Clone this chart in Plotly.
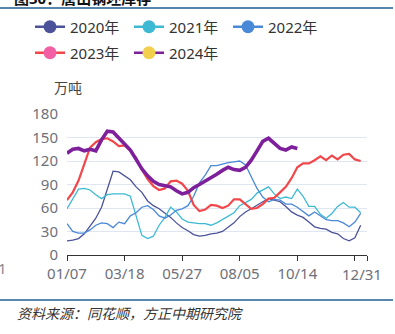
import plotly.graph_objects as go

tick_labels = ["01/07", "03/18", "05/27", "08/05", "10/14", "12/31"]
years = ["2020年", "2021年", "2022年", "2023年", "2024年"]

y2020 = [18, 19, 21, 27, 37, 47, 61, 84, 107, 106,
         101, 96, 87, 80, 69, 63, 59, 54, 48, 41,
         35, 31, 26, 24, 25, 27, 28, 30, 35, 41,
         49, 55, 59, 64, 68, 72, 70, 68, 62, 55,
         51, 48, 42, 36, 34, 33, 29, 27, 21, 18,
         22, 38]
y2021 = [59, 72, 84, 85, 83, 77, 72, 77, 78, 78,
         78, 75, 49, 25, 21, 24, 38, 48, 61, 55,
         46, 42, 41, 40, 40, 38, 41, 45, 49, 54,
         63, 67, 71, 79, 83, 87, 78, 72, 74, 72,
         84, 75, 62, 62, 52, 47, 53, 62, 67, 61,
         61, 54]
y2022 = [40, 30, 28, 28, 32, 38, 41, 40, 35, 42,
         40, 50, 54, 61, 63, 58, 50, 47, 51, 57,
         59, 63, 75, 92, 102, 114, 114, 116, 118, 119,
         120, 115, 99, 85, 74, 68, 71, 70, 65, 65,
         61, 56, 50, 55, 50, 45, 44, 44, 41, 36,
         42, 53]
y2023 = [70, 80, 95, 117, 137, 144, 148, 149, 145, 139,
         140, 133, 124, 109, 97, 88, 83, 85, 94, 95,
         91, 82, 64, 56, 58, 64, 63, 60, 63, 71,
         71, 65, 59, 60, 65, 72, 73, 80, 87, 98,
         112, 117, 117, 121, 126, 121, 127, 122, 128, 129,
         122, 120]
y2024 = [130, 135, 136, 133, 135, 133, 147, 158, 157, 149,
         141, 134, 122, 110, 101, 94, 90, 88, 87, 82,
         78, 80, 86, 90, 94, 98, 103, 108, 112, 109,
         108, 112, 121, 133, 145, 149, 142, 136, 134, 138,
         136]

line_colors = ["#4b529a", "#3db9d3", "#4a88d8", "#f2474a", "#7e1f9c"]
marker_colors = ["#4b529a", "#3db9d3", "#4a88d8", "#f25fa5", "#f2d04d"]
widths = [1.3, 1.3, 1.3, 2.2, 3.6]
series = [y2020, y2021, y2022, y2023, y2024]

# legend item placement (container pixels): left x, row centre y
legend_x = [30, 129, 228, 30, 129]
legend_y = [27, 27, 27, 53, 53]

fig = go.Figure()
for name, ys, c, w in zip(years, series, line_colors, widths):
    fig.add_trace(go.Scatter(x=list(range(len(ys))), y=ys, mode="lines",
                             line=dict(color=c, width=w), showlegend=False,
                             hoverinfo="skip"))

font_family = "Noto Sans, Noto Sans CJK SC, sans-serif"
legend_layouts = {}
for k, (name, lc, mc) in enumerate(zip(years, line_colors, marker_colors)):
    lname = "legend" if k == 0 else f"legend{k + 1}"
    fig.add_trace(go.Scatter(x=[None], y=[None], mode="lines+markers", name=name,
                             line=dict(color=lc, width=2.5),
                             marker=dict(color=mc, size=13),
                             legend=lname))
    legend_layouts[lname] = dict(
        orientation="h", xref="container", yref="container",
        xanchor="left", yanchor="middle",
        x=legend_x[k] / 395, y=1 - legend_y[k] / 334,
        font=dict(size=15, color="#333333", family=font_family),
        bgcolor="rgba(0,0,0,0)", borderwidth=0)

fig.update_layout(
    width=395, height=334,
    margin=dict(l=67, r=28, t=114, b=79),
    paper_bgcolor="white", plot_bgcolor="white",
    font=dict(family=font_family, size=15, color="#6e7079"),
    xaxis=dict(range=[0, 52.1], tickvals=[0, 10, 20, 30, 40, 50, 52.1],
               ticktext=tick_labels[:5] + ["", ""],
               showgrid=False, zeroline=False, showline=True,
               linecolor="#333333", linewidth=1, ticks="outside",
               ticklen=5, tickcolor="#333333",
               tickfont=dict(size=15, color="#6e7079")),
    yaxis=dict(range=[0, 180], tickvals=[0, 30, 60, 90, 120, 150, 180],
               showgrid=True, gridcolor="#e0e6f1", gridwidth=1,
               zeroline=False, showline=False, ticks="",
               ticklabelstandoff=8,
               tickfont=dict(size=15, color="#6e7079")),
    showlegend=True,
    **legend_layouts,
)

fig.add_annotation(x=51.2, y=0, xref="x", yref="y", text=tick_labels[5],
                   showarrow=False, yanchor="top", yshift=-7,
                   font=dict(size=15, color="#6e7079", family=font_family))
fig.add_annotation(x=-0.05, y=(255 - 87) / 141, xref="paper", yref="paper",
                   text="万吨", showarrow=False, xanchor="left", yanchor="middle",
                   font=dict(size=14, color="#444444", family=font_family))
fig.add_annotation(x=-0.183, y=(255 + 2) / 141, xref="paper", yref="paper",
                   text="<b>图30：唐山钢坯库存</b>", showarrow=False,
                   xanchor="left", yanchor="middle",
                   font=dict(size=15, color="#111111", family=font_family))
fig.add_annotation(x=-0.173, y=(255 - 313) / 141, xref="paper", yref="paper",
                   text="<i>资料来源：同花顺，方正中期研究院</i>", showarrow=False,
                   xanchor="left", yanchor="middle",
                   font=dict(size=14, color="#333333", family=font_family))
fig.add_annotation(x=-0.236, y=(255 - 268) / 141, xref="paper", yref="paper",
                   text="1", showarrow=False, xanchor="left", yanchor="middle",
                   font=dict(size=15, color="#888888", family=font_family))

for yp in [(255 - 8) / 141, (255 - 300) / 141]:
    fig.add_shape(type="line", xref="paper", yref="paper",
                  x0=-0.2233, x1=1.0867, y0=yp, y1=yp,
                  line=dict(color="#1f5c8f", width=1.5))

fig.write_html("out.html")
